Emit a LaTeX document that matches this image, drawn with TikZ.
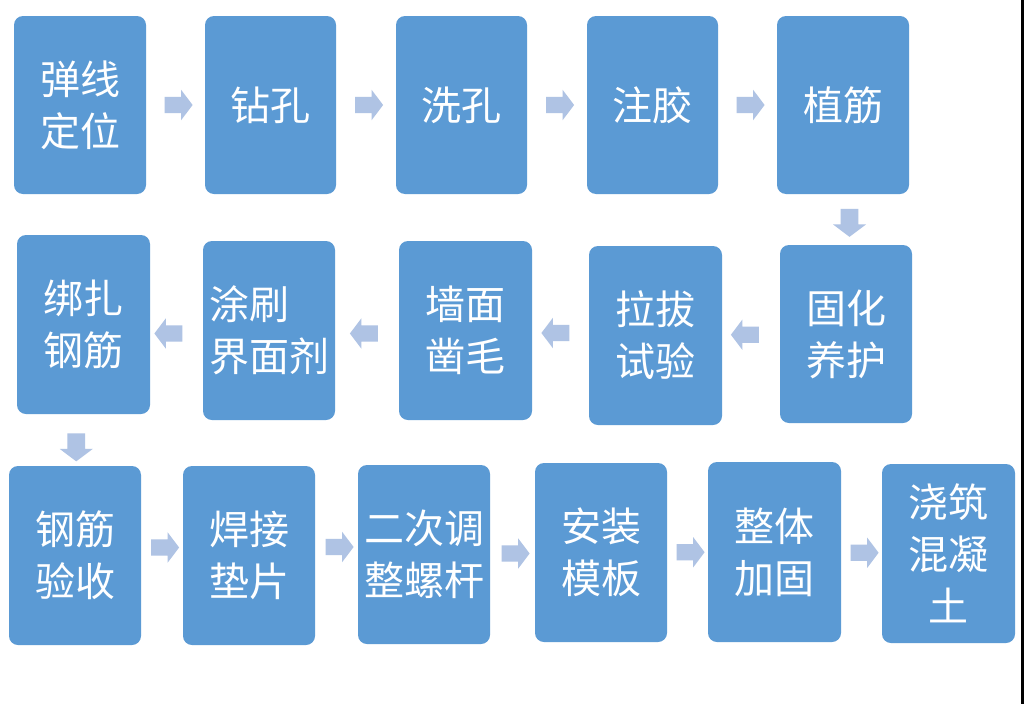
\documentclass[tikz,border=0pt]{standalone}
\usepackage{fontspec}
\newfontfamily\cjk{Noto Sans CJK SC}
\usetikzlibrary{shapes.arrows,calc}
\definecolor{boxblue}{HTML}{5B9AD4}
\definecolor{arrowblue}{HTML}{AFC3E4}
\tikzset{
  stepbox/.style={fill=boxblue, draw=none, rounded corners=9pt, text=white,
    font=\cjk\fontsize{40}{52}\selectfont, align=center, inner sep=0pt},
  flowarrow/.style={single arrow, fill=arrowblue, draw=none, minimum height=28pt,
    inner xsep=0pt, inner ysep=8pt, single arrow head extend=7pt, single arrow tip angle=106}
}
\newcommand\stepnode[7][]{%
  \node[stepbox,#1, minimum width={(#4-#2)*1pt}, minimum height={(#5-#3)*1pt}]
    (#6) at ({(#2+#4)/2},{(#3+#5)/2}) {#7};}
\begin{document}
\begin{tikzpicture}[x=1pt,y=-1pt]
\path[use as bounding box, fill=white] (0,0) rectangle (1024,704);
\fill[black] (1021,0) rectangle (1024,704);
% row 1
\stepnode{14}{16}{146}{194}{b1}{弹线\\定位}
\stepnode{205}{16}{336}{194}{b2}{钻孔}
\stepnode{396}{16}{527}{194}{b3}{洗孔}
\stepnode{587}{16}{718}{194}{b4}{注胶}
\stepnode{777}{16}{909}{194}{b5}{植筋}
% row 2
\stepnode{780}{245}{912}{423}{b6}{固化\\养护}
\stepnode{589}{246}{722}{425}{b7}{拉拔\\试验}
\stepnode{399}{241}{532}{420}{b8}{墙面\\凿毛}
\stepnode[align=left]{203}{241}{335}{420}{b9}{涂刷\\界面剂}
\stepnode{17}{235}{150}{414}{b10}{绑扎\\钢筋}
% row 3
\stepnode{9}{466}{141}{645}{b11}{钢筋\\验收}
\stepnode{183}{466}{315}{645}{b12}{焊接\\垫片}
\stepnode{358}{465}{490}{644}{b13}{二次调\\整螺杆}
\stepnode{535}{463}{667}{642}{b14}{安装\\模板}
\stepnode{708}{462}{841}{642}{b15}{整体\\加固}
\stepnode{882}{464}{1015}{643}{b16}{浇筑\\混凝\\土}
% arrows row 1
\node[flowarrow] (a1) at ($(b1.east)!0.5!(b2.west)$) {};
\node[flowarrow] (a2) at ($(b2.east)!0.5!(b3.west)$) {};
\node[flowarrow] (a3) at ($(b3.east)!0.5!(b4.west)$) {};
\node[flowarrow] (a4) at ($(b4.east)!0.5!(b5.west)$) {};
\node[flowarrow, rotate=-90, minimum width=33pt] (a5) at ($(b5.south)!0.5!(b6.north)+(5,0)$) {};
% arrows row 2
\node[flowarrow, rotate=180] (a6) at ($(b6.west)!0.5!(b7.east)+(-3,0)$) {};
\node[flowarrow, rotate=180] (a7) at ($(b7.west)!0.5!(b8.east)+(-2,0)$) {};
\node[flowarrow, rotate=180] (a8) at ($(b8.west)!0.5!(b9.east)+(0,3)$) {};
\node[flowarrow, rotate=180] (a9) at ($(b9.west)!0.5!(b10.east)+(-5,6)$) {};
\node[flowarrow, rotate=-90, minimum width=33pt] (a10) at ($(b10.south)!0.5!(b11.north)+(-3,4)$) {};
% arrows row 3
\node[flowarrow] (a11) at ($(b11.east)!0.5!(b12.west)+(0,-8)$) {};
\node[flowarrow] (a12) at ($(b12.east)!0.5!(b13.west)+(0,-8)$) {};
\node[flowarrow] (a13) at ($(b13.east)!0.5!(b14.west)$) {};
\node[flowarrow] (a14) at ($(b14.east)!0.5!(b15.west)$) {};
\node[flowarrow] (a15) at ($(b15.east)!0.5!(b16.west)$) {};
\end{tikzpicture}
\end{document}
